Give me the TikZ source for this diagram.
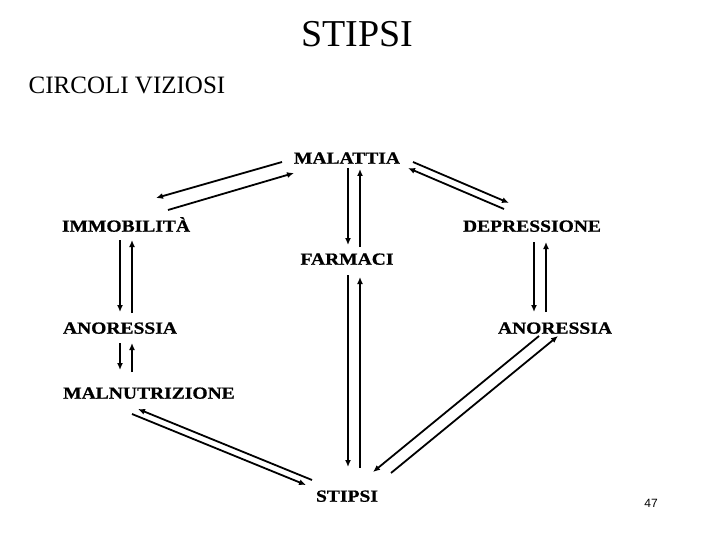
\documentclass[tikz,border=0pt]{standalone}
\usepackage{fontspec}
\setmainfont{Liberation Serif}
\newfontfamily\labfont[FakeStretch=1.15,FakeBold=0.8]{Liberation Serif}
\newfontfamily\numfont{Liberation Sans}
\usetikzlibrary{arrows.meta,calc}
\tikzset{
  lab/.style={inner sep=0pt, text height=11.4pt, text depth=0pt,
    font=\labfont\bfseries\fontsize{17}{20}\selectfont},
  ttl/.style={inner sep=0pt, text depth=0pt},
  arr/.style={line width=1.8pt, -{Latex[length=7pt,width=6pt]}},
}
\begin{document}
\begin{tikzpicture}[x=1pt,y=-1pt]
\fill[white] (0,0) rectangle (720,540);
\useasboundingbox (0,0) rectangle (720,540);
\node[ttl, text height=25pt, font=\fontsize{38}{42}\selectfont] (title) at (357.5,34.5) {STIPSI};
\node[ttl, text height=16.5pt, font=\fontsize{25}{28}\selectfont] (sub) at (127,85) {CIRCOLI VIZIOSI};
\node[lab] (mal) at (347,158) {MALATTIA};
\node[lab] (imm) at (126,226) {IMMOBILITÀ};
\node[lab] (dep) at (532,226) {DEPRESSIONE};
\node[lab] (farm) at (347,259) {FARMACI};
\node[lab] (anR) at (555,328) {ANORESSIA};
\node[lab] (anL) at (120,328) {ANORESSIA};
\node[lab] (maln) at (149,393) {MALNUTRIZIONE};
\node[lab] (stip) at (347,496) {STIPSI};
\node[inner sep=0pt, text height=8.6pt, text depth=0pt, font=\numfont\fontsize{12}{14}\selectfont] (num) at (651,503) {47};
% MALATTIA <-> IMMOBILITA
\draw[arr] ($(mal)+(-65,4)$) -- ($(imm)+(30,-28)$);
\draw[arr] ($(imm)+(42,-16)$) -- ($(mal)+(-53,15)$);
% MALATTIA <-> FARMACI
\draw[arr] ($(mal)+(1,10)$) -- ($(farm)+(1,-14)$);
\draw[arr] ($(farm)+(13,-12)$) -- ($(mal)+(13,11)$);
% MALATTIA <-> DEPRESSIONE
\draw[arr] ($(mal)+(66,4)$) -- ($(dep)+(-23,-23)$);
\draw[arr] ($(dep)+(-28,-17)$) -- ($(mal)+(61,10)$);
% DEPRESSIONE <-> ANORESSIA right
\draw[arr] ($(dep)+(2,16)$) -- ($(anR)+(-21,-16)$);
\draw[arr] ($(anR)+(-9,-16)$) -- ($(dep)+(14,16)$);
% FARMACI <-> STIPSI
\draw[arr] ($(farm)+(1,16)$) -- ($(stip)+(1,-29)$);
\draw[arr] ($(stip)+(13,-28)$) -- ($(farm)+(13,18)$);
% ANORESSIA right <-> STIPSI
\draw[arr] ($(anR)+(-16,8)$) -- ($(stip)+(26,-24)$);
\draw[arr] ($(stip)+(44,-23)$) -- ($(anR)+(3,8)$);
% IMMOBILITA <-> ANORESSIA left
\draw[arr] ($(imm)+(-6,14)$) -- ($(anL)+(0,-16)$);
\draw[arr] ($(anL)+(12,-15)$) -- ($(imm)+(6,14)$);
% ANORESSIA left <-> MALNUTRIZIONE
\draw[arr] ($(anL)+(0,15)$) -- ($(maln)+(-29,-23)$);
\draw[arr] ($(maln)+(-17,-21)$) -- ($(anL)+(12,15)$);
% STIPSI <-> MALNUTRIZIONE
\draw[arr] ($(stip)+(-35,-16)$) -- ($(maln)+(-11,16)$);
\draw[arr] ($(maln)+(-17,21)$) -- ($(stip)+(-41,-11)$);
\end{tikzpicture}
\end{document}
